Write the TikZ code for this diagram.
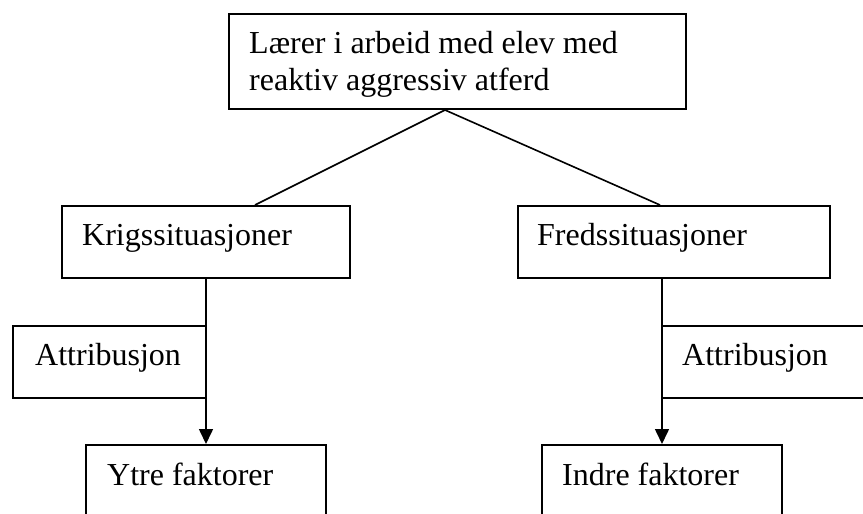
\documentclass[tikz,border=0pt]{standalone}
\usepackage{fontspec}
\setmainfont{Liberation Serif}
\usetikzlibrary{arrows.meta}
\begin{document}
\begin{tikzpicture}[x=1pt,y=-1pt,
  box/.style={draw=black,line width=2pt,rectangle,inner sep=0pt,anchor=north west},
  lbl/.style={inner sep=0pt,anchor=base west,font=\fontsize{32}{38}\selectfont},
  link/.style={draw=black,line width=1.6pt},
  arr/.style={link,-{Triangle[width=14pt,length=15pt]}}]
\useasboundingbox (0,0) rectangle (863,514);
\clip (0,0) rectangle (863,514);
\fill[white] (0,0) rectangle (863,514);

% top box
\node[box,minimum width=457pt,minimum height=95pt] (top) at (228,13) {};
\node[lbl] (top1) at (249,53) {Lærer i arbeid med elev med};
\node[lbl] (top2) at (249,90) {reaktiv aggressiv atferd};

% second level
\node[box,minimum width=288pt,minimum height=72pt] (krig) at (61,205) {};
\node[lbl] (krigt) at (82,245) {Krigssituasjoner};
\node[box,minimum width=312pt,minimum height=72pt] (fred) at (517,205) {};
\node[lbl] (fredt) at (537,245) {Fredssituasjoner};

% attribution boxes
\node[box,minimum width=193pt,minimum height=72pt] (attl) at (12,325) {};
\node[lbl] (attlt) at (35,365) {Attribusjon};
\node[box,minimum width=260pt,minimum height=72pt] (attr) at (661,325) {};
\node[lbl] (attrt) at (682,365) {Attribusjon};

% bottom boxes
\node[box,minimum width=240pt,minimum height=100pt] (ytre) at (85,444) {};
\node[lbl] (ytret) at (107,485) {Ytre faktorer};
\node[box,minimum width=240pt,minimum height=100pt] (indre) at (541,444) {};
\node[lbl] (indret) at (562,485) {Indre faktorer};

% connectors
\draw[link] ([xshift=217pt]top.south west) -- ([xshift=194pt]krig.north west);
\draw[link] ([xshift=217pt]top.south west) -- ([xshift=143pt]fred.north west);
\draw[arr] (krig.south -| ytre.north) -- (ytre.north);
\draw[arr] (fred.south -| indre.north) -- (indre.north);
\end{tikzpicture}
\end{document}
